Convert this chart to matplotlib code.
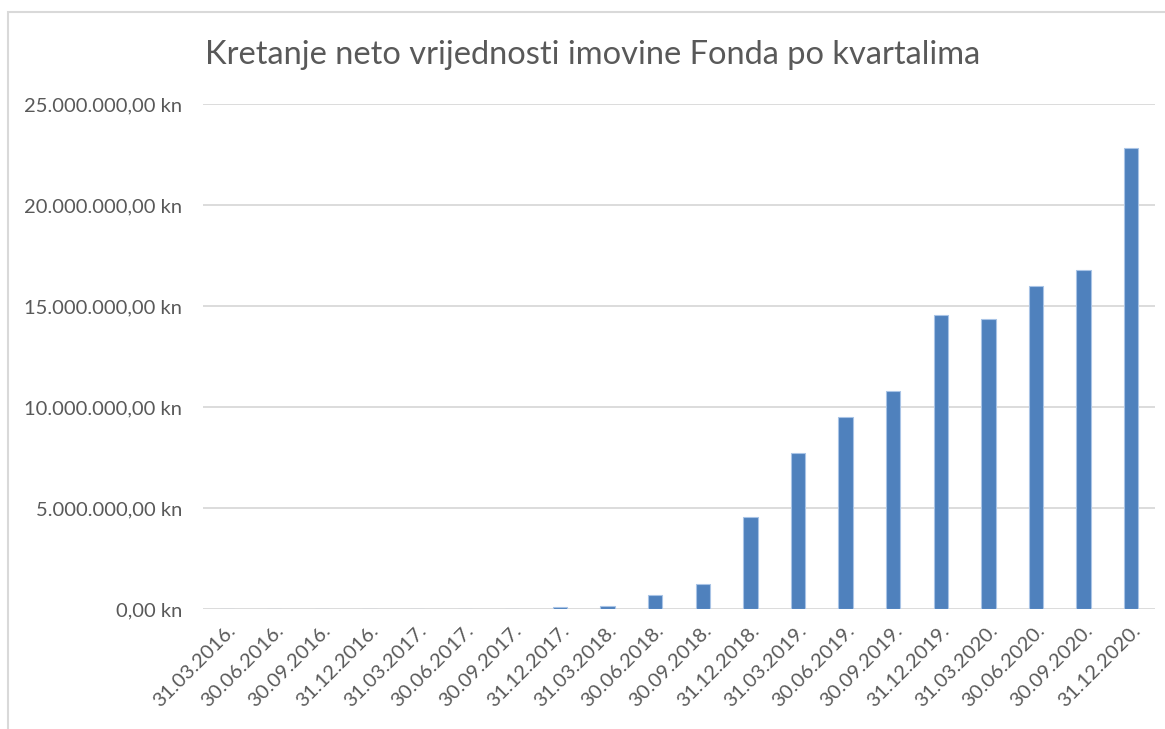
import matplotlib.pyplot as plt
from matplotlib.patches import Rectangle
from matplotlib.ticker import FuncFormatter

plt.rcParams['font.family'] = ['Lato', 'DejaVu Sans']

quarters = ["31.03.2016.", "30.06.2016.", "30.09.2016.", "31.12.2016.",
            "31.03.2017.", "30.06.2017.", "30.09.2017.", "31.12.2017.",
            "31.03.2018.", "30.06.2018.", "30.09.2018.", "31.12.2018.",
            "31.03.2019.", "30.06.2019.", "30.09.2019.", "31.12.2019.",
            "31.03.2020.", "30.06.2020.", "30.09.2020.", "31.12.2020."]
net_assets = [0, 0, 0, 0,
              0, 0, 0, 100000,
              160000, 710000, 1240000, 4550000,
              7720000, 9500000, 10800000, 14550000,
              14380000, 16000000, 16800000, 22830000]

text_color = "#595959"
bar_color = "#4f81bd"


def kn(v, pos):
    s = f"{v:,.2f}".replace(",", "X").replace(".", ",").replace("X", ".")
    return s + " kn"


fig = plt.figure(figsize=(11.65, 7.29), dpi=100)
ax = fig.add_axes([0.1742, 0.1646, 0.8172, 0.6927])

# chart border
fig.patches.append(Rectangle((8 / 1165, -0.01), 1.02, 1 - 12 / 729 + 0.01,
                             transform=fig.transFigure, fill=False,
                             edgecolor="#d9d9d9", linewidth=1.5))

x = range(len(quarters))
ax.bar(x, net_assets, width=0.3, color=bar_color, edgecolor="#a9c4e6",
       linewidth=0.8, zorder=3)

ax.set_xlim(-0.5, len(quarters) - 0.5)
ax.set_ylim(0, 25000000)
ax.set_yticks(range(0, 25000001, 5000000))
ax.yaxis.set_major_formatter(FuncFormatter(kn))
ax.grid(axis="y", color="#d9d9d9", linewidth=1.3, zorder=0)

ax.set_xticks(list(x))
ax.set_xticklabels(quarters, rotation=45, ha="right", va="top",
                   rotation_mode="anchor")
ax.tick_params(axis="both", length=0, labelsize=14.5, colors=text_color)
ax.tick_params(axis="y", pad=15)
ax.tick_params(axis="x", pad=9)

for s in ax.spines.values():
    s.set_visible(False)

fig.text(0.509, 0.924, "Kretanje neto vrijednosti imovine Fonda po kvartalima",
         ha="center", va="center", fontsize=23.5, color=text_color)

fig.savefig("out.png", dpi=100)
